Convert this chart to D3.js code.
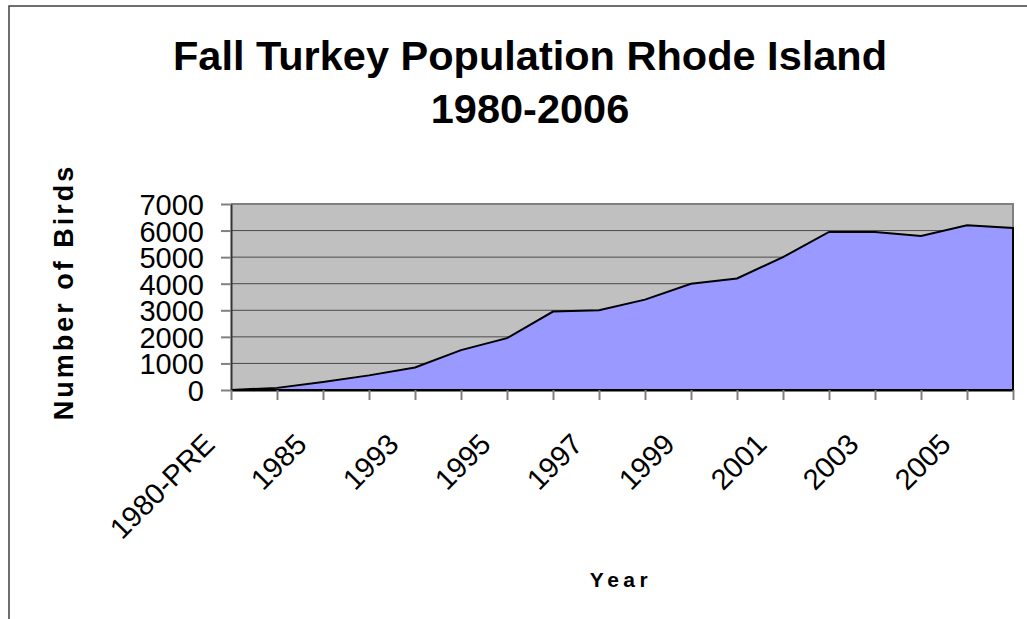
<!DOCTYPE html>
<html>
<head>
<meta charset="utf-8">
<script src="https://cdn.jsdelivr.net/npm/d3@7"></script>
<style>
  html, body { margin: 0; padding: 0; background: #fff; }
  svg { display: block; font-family: "Liberation Sans", Arial, sans-serif; }
</style>
</head>
<body>
<svg id="chart" width="1027" height="619"></svg>
<script>
// Fall turkey counts, Rhode Island
const categories = ["1980-PRE", "1982", "1985", "1990", "1993", "1994", "1995", "1996", "1997",
                    "1998", "1999", "2000", "2001", "2002", "2003", "2004", "2005", "2006"];
const birds = [0, 80, 300, 550, 850, 1500, 1950, 2950, 3000, 3400, 4000, 4200, 5000, 5950, 5950, 5800, 6200, 6100];
const yTicks = [0, 1000, 2000, 3000, 4000, 5000, 6000, 7000];
const titleLines = ["Fall Turkey Population Rhode Island", "1980-2006"];

const svg = d3.select("#chart");

// chart frame
svg.append("rect")
  .attr("x", 9).attr("y", 6).attr("width", 1040).attr("height", 660)
  .attr("fill", "#fff").attr("stroke", "#404040").attr("stroke-width", 1.5);

const plot = { left: 231, right: 1013, top: 204, bottom: 390 };

const x = d3.scalePoint().domain(categories).range([plot.left, plot.right]);
const y = d3.scaleLinear().domain([0, 7000]).range([plot.bottom, plot.top]);

// plot background
svg.append("rect")
  .attr("x", plot.left).attr("y", plot.top)
  .attr("width", plot.right - plot.left).attr("height", plot.bottom - plot.top)
  .attr("fill", "#C0C0C0");

// horizontal gridlines
svg.append("g").selectAll("line")
  .data(yTicks.filter(v => v > 0 && v < 7000))
  .join("line")
  .attr("x1", plot.left).attr("x2", plot.right)
  .attr("y1", d => y(d)).attr("y2", d => y(d))
  .attr("stroke", "#4a4a4a").attr("stroke-width", 1);

// top and right edges of the plot
svg.append("path")
  .attr("d", `M${plot.left},${plot.top}H${plot.right}V${plot.bottom}`)
  .attr("fill", "none").attr("stroke", "#808080").attr("stroke-width", 2);

// area series
const area = d3.area()
  .x((d, i) => x(categories[i]))
  .y0(y(0))
  .y1(d => y(d));

svg.append("path")
  .datum(birds)
  .attr("d", d => area(d))
  .attr("fill", "#9999FF")
  .attr("stroke", "#000")
  .attr("stroke-width", 2)
  .attr("stroke-linejoin", "miter");

// y axis
const yAxis = svg.append("g")
  .attr("transform", `translate(${plot.left},0)`)
  .call(d3.axisLeft(y).tickValues(yTicks).tickSize(10).tickSizeOuter(0).tickFormat(d3.format("d")));
yAxis.select(".domain").attr("stroke", "#333").attr("stroke-width", 2);
yAxis.selectAll(".tick line").attr("stroke", "#808080").attr("stroke-width", 2);
yAxis.selectAll(".tick text")
  .attr("x", -27).attr("dy", "0.36em")
  .attr("font-size", 29).attr("fill", "#000")
  .attr("font-family", "Liberation Sans, Arial, sans-serif");

// x axis
const xAxis = svg.append("g")
  .attr("transform", `translate(0,${plot.bottom})`)
  .call(d3.axisBottom(x).tickSize(10).tickSizeOuter(0)
    .tickFormat((d, i) => i % 2 === 0 ? d : ""));
xAxis.select(".domain").attr("stroke", "#000").attr("stroke-width", 2);
xAxis.selectAll(".tick line").attr("stroke", "#808080").attr("stroke-width", 2);
xAxis.selectAll(".tick text")
  .attr("x", 0).attr("y", 0).attr("dy", 0)
  .attr("text-anchor", "end")
  .attr("transform", "translate(-15,56) rotate(-45)")
  .attr("font-size", 29).attr("fill", "#000")
  .attr("font-family", "Liberation Sans, Arial, sans-serif");

// title
svg.append("g").selectAll("text")
  .data(titleLines)
  .join("text")
  .attr("x", 530).attr("y", (d, i) => 70 + i * 53)
  .attr("text-anchor", "middle")
  .attr("font-size", 41.5).attr("font-weight", "bold")
  .text(d => d);

// axis titles
svg.append("text")
  .attr("x", 621).attr("y", 587)
  .attr("text-anchor", "middle")
  .attr("font-size", 21).attr("font-weight", "bold")
  .attr("letter-spacing", 4.5)
  .text("Year");

svg.append("text")
  .attr("transform", "translate(73,292) rotate(-90)")
  .attr("text-anchor", "middle")
  .attr("font-size", 27).attr("font-weight", "bold")
  .attr("letter-spacing", 3)
  .text("Number of Birds");
</script>
</body>
</html>
